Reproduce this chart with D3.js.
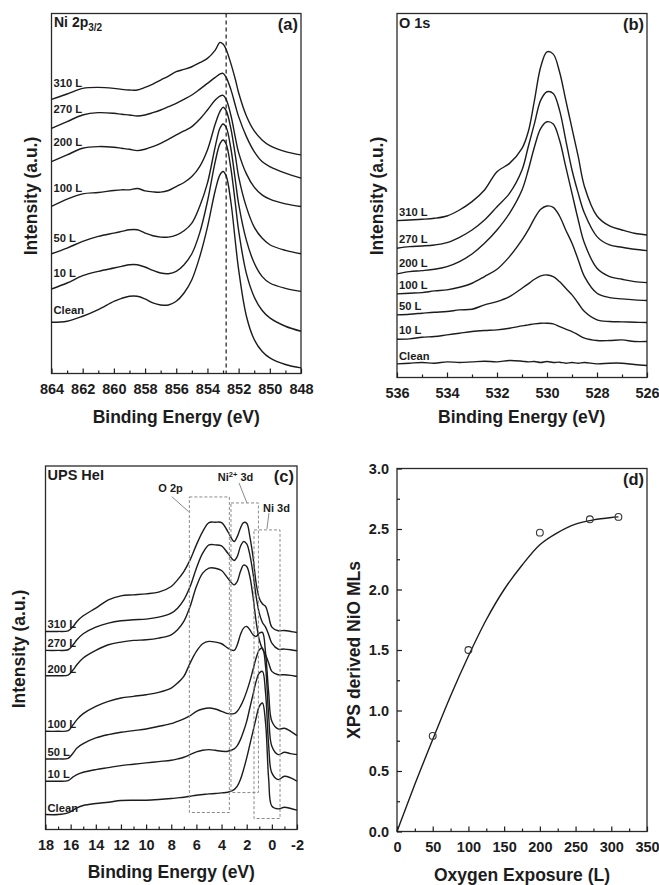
<!DOCTYPE html>
<html><head><meta charset="utf-8">
<script src="https://cdn.jsdelivr.net/npm/d3@7"></script>
<style>
body{margin:0;background:#fff;}
svg{display:block;}
</style></head><body>
<svg id="chart" width="659" height="885"></svg>
<script>
// ---------------- DATA ----------------
const exposures = ["310 L", "270 L", "200 L", "100 L", "50 L", "10 L", "Clean"];

// (a) Ni 2p3/2 XPS, binding energy (eV) and intensity (a.u.)
const energyNi2p = [864, 863, 862, 861, 860, 859.5, 859, 858.5, 858, 857.5, 857, 856.5, 856, 855.5, 855, 854.5, 854, 853.5, 853.2, 853, 852.8, 852.5, 852.2, 852, 851.5, 851, 850.5, 850, 849, 848];
const ni2p_310 = [824, 840, 857, 860, 857, 854, 852, 852, 860, 870, 882, 894, 907, 914, 922, 934, 947, 972, 995, 990, 974, 932, 882, 844, 774, 729, 702, 685, 667, 657];
const ni2p_270 = [737, 757, 777, 784, 782, 779, 777, 774, 777, 784, 792, 802, 812, 824, 837, 854, 872, 890, 900, 902, 890, 854, 804, 772, 712, 667, 637, 622, 602, 587];
const ni2p_200 = [637, 657, 677, 682, 680, 677, 674, 670, 674, 682, 692, 704, 717, 729, 742, 764, 792, 822, 834, 836, 824, 777, 707, 664, 600, 560, 537, 524, 510, 502];
const ni2p_100 = [502, 524, 540, 544, 550, 552, 552, 556, 549, 546, 545, 550, 562, 574, 592, 622, 672, 750, 787, 800, 790, 737, 652, 592, 500, 440, 407, 387, 370, 360];
const ni2p_50 = [360, 377, 397, 412, 422, 427, 432, 432, 422, 414, 410, 410, 416, 429, 452, 502, 572, 682, 737, 750, 740, 677, 577, 510, 400, 332, 292, 272, 256, 247];
const ni2p_10 = [254, 272, 294, 307, 317, 322, 327, 327, 320, 310, 302, 300, 307, 327, 360, 422, 517, 637, 690, 702, 690, 617, 507, 430, 300, 230, 190, 167, 142, 127];
const ni2p_clean = [154, 157, 172, 192, 217, 226, 232, 232, 224, 212, 206, 206, 217, 242, 282, 350, 440, 550, 597, 607, 594, 517, 392, 312, 172, 102, 67, 47, 27, 17];
const ni2pMetalLine = 852.8;
const ni2pTicks = [864, 862, 860, 858, 856, 854, 852, 850, 848];

// (b) O 1s XPS
const energyO1s = [536, 535.5, 535, 534.5, 534, 533.5, 533, 532.5, 532, 531.5, 531, 530.75, 530.5, 530.25, 530, 529.75, 529.5, 529.25, 529, 528.75, 528.5, 528, 527.5, 527, 526.5, 526];
const o1s_310 = [471, 473, 475, 478, 485, 503, 528, 563, 618, 643, 688, 738, 833, 933, 978, 971, 918, 833, 748, 663, 573, 485, 455, 443, 433, 428];
const o1s_270 = [388, 393, 395, 398, 405, 421, 443, 473, 513, 553, 623, 693, 763, 833, 858, 853, 803, 713, 623, 553, 493, 423, 398, 391, 385, 381];
const o1s_200 = [311, 318, 321, 325, 333, 348, 371, 403, 443, 493, 563, 623, 693, 748, 768, 761, 713, 633, 553, 473, 403, 328, 303, 295, 288, 285];
const o1s_100 = [251, 253, 255, 260, 263, 271, 283, 303, 325, 363, 413, 443, 478, 505, 515, 511, 485, 443, 403, 353, 303, 253, 240, 236, 233, 231];
const o1s_50 = [188, 190, 193, 196, 198, 203, 205, 218, 228, 243, 268, 281, 295, 305, 308, 303, 288, 268, 248, 223, 198, 173, 168, 167, 166, 165];
const o1s_10 = [115, 116, 121, 123, 128, 133, 138, 141, 143, 148, 155, 158, 161, 163, 163, 161, 153, 145, 138, 128, 118, 111, 111, 113, 108, 108];
const o1s_clean = [41, 43, 45, 43, 47, 45, 47, 49, 47, 51, 49, 47, 48, 45, 48, 45, 46, 43, 45, 43, 45, 41, 43, 43, 39, 36];
const o1sTicks = [536, 534, 532, 530, 528, 526];

// (c) UPS HeI valence band
const energyUps = [18, 17, 16.2, 15.8, 15.5, 15, 14, 13, 12, 11, 10, 9, 8, 7.5, 7, 6.5, 6, 5.5, 5, 4.5, 4, 3.5, 3, 2.75, 2.5, 2.25, 2, 1.75, 1.5, 1.25, 1, 0.75, 0.5, 0.25, 0, -0.5, -1, -1.5, -2];
const ups_310 = [595, 595, 597, 610, 625, 642, 665, 690, 702, 705, 708, 713, 730, 750, 775, 810, 855, 895, 922, 923, 922, 895, 865, 880, 905, 922, 920, 880, 820, 740, 695, 678, 670, 640, 608, 597, 598, 595, 592];
const ups_270 = [538, 538, 540, 555, 570, 588, 608, 620, 627, 630, 632, 638, 650, 665, 690, 730, 785, 830, 855, 855, 852, 830, 808, 820, 850, 865, 858, 825, 770, 700, 650, 622, 608, 585, 560, 542, 542, 540, 537];
const ups_200 = [462, 462, 464, 480, 495, 515, 538, 555, 563, 568, 570, 575, 585, 600, 625, 670, 730, 770, 785, 785, 778, 755, 735, 745, 775, 794, 790, 760, 700, 625, 570, 542, 525, 500, 475, 465, 465, 463, 460];
const ups_100 = [295, 295, 297, 315, 330, 348, 370, 385, 395, 400, 405, 412, 425, 440, 460, 500, 535, 558, 565, 563, 558, 545, 538, 555, 585, 605, 610, 600, 585, 580, 590, 592, 530, 410, 325, 302, 304, 295, 282];
const ups_50 = [212, 212, 214, 230, 245, 258, 275, 285, 292, 297, 302, 310, 318, 325, 332, 342, 355, 362, 365, 362, 355, 348, 348, 355, 370, 390, 415, 445, 480, 515, 540, 545, 490, 340, 250, 225, 232, 228, 225];
const ups_10 = [145, 145, 147, 158, 165, 172, 180, 186, 192, 196, 200, 204, 208, 212, 217, 225, 233, 238, 240, 238, 235, 235, 242, 252, 270, 295, 325, 365, 405, 445, 470, 475, 410, 250, 170, 150, 160, 155, 145];
const ups_clean = [45, 45, 50, 58, 65, 72, 78, 82, 87, 88, 88, 90, 93, 95, 97, 100, 103, 105, 107, 108, 110, 112, 120, 130, 150, 180, 215, 255, 295, 335, 370, 380, 320, 150, 70, 62, 67, 63, 58];
const upsTicks = [18, 16, 14, 12, 10, 8, 6, 4, 2, 0, -2];
// region boxes: [label, E high, E low, I top, I bottom]
const upsRegions = ["O 2p", "Ni\u00B2\u207A 3d", "Ni 3d"];
const upsRegionE = [[6.56, 3.38], [3.25, 1.07], [1.42, -0.65]];
const upsRegionI = [[999, 51], [981, 111], [900, 33]];

// (d) XPS derived NiO thickness
const exposureL = [50, 100, 200, 270, 310];
const nioML = [0.79, 1.5, 2.47, 2.58, 2.6];
const fitL = [0, 25, 50, 75, 100, 125, 150, 175, 200, 225, 250, 275, 300, 310];
const fitML = [0, 0.39, 0.76, 1.12, 1.45, 1.75, 2.0, 2.2, 2.37, 2.47, 2.54, 2.575, 2.595, 2.6];
const dTicksX = [0, 50, 100, 150, 200, 250, 300, 350];
const dTicksY = [0, 0.5, 1.0, 1.5, 2.0, 2.5, 3.0];

// ---------------- DRAWING ----------------
const FONT = '"Liberation Sans", Arial, Helvetica, sans-serif';
const INK = "#1c1c1c";
const svg = d3.select("#chart").attr("font-family", FONT).attr("font-weight", "bold");

function interpAt(xs, ys, X) {
  if (X >= xs[0]) return ys[0];
  for (let i = 0; i < xs.length - 1; i++) {
    const a = xs[i], b = xs[i + 1];
    if (X <= a && X >= b) { const t = (X - a) / (b - a); return ys[i] + t * (ys[i + 1] - ys[i]); }
  }
  return ys[ys.length - 1];
}

function frame(L) {
  svg.append("rect").attr("x", L.x0).attr("y", L.y0)
    .attr("width", L.x1 - L.x0).attr("height", L.y1 - L.y0)
    .attr("fill", "none").attr("stroke", "#2a2a2a").attr("stroke-width", 1.3);
}

function bottomAxis(x, L, major, minor) {
  const g = svg.append("g").attr("transform", `translate(0,${L.y1})`)
    .call(d3.axisBottom(x).tickValues(major).tickSizeInner(-5).tickSizeOuter(0).tickPadding(10).tickFormat(d => String(d)));
  g.attr("font-family", FONT).attr("font-size", 14.5).attr("font-weight", "bold");
  g.select(".domain").remove();
  g.selectAll("line").attr("stroke", INK).attr("stroke-width", 1.2);
  g.selectAll("text").attr("fill", INK);
  const gm = svg.append("g").attr("transform", `translate(0,${L.y1})`)
    .call(d3.axisBottom(x).tickValues(minor).tickSizeInner(-3).tickSizeOuter(0).tickFormat(""));
  gm.select(".domain").remove();
  gm.selectAll("line").attr("stroke", INK).attr("stroke-width", 1.2);
}

function leftAxis(y, L, major, minor) {
  const g = svg.append("g").attr("transform", `translate(${L.x0},0)`)
    .call(d3.axisLeft(y).tickValues(major).tickSizeInner(-5).tickSizeOuter(0).tickPadding(8).tickFormat(d3.format(".1f")));
  g.attr("font-family", FONT).attr("font-size", 14.5).attr("font-weight", "bold");
  g.select(".domain").remove();
  g.selectAll("line").attr("stroke", INK).attr("stroke-width", 1.2);
  g.selectAll("text").attr("fill", INK);
  const gm = svg.append("g").attr("transform", `translate(${L.x0},0)`)
    .call(d3.axisLeft(y).tickValues(minor).tickSizeInner(-3).tickSizeOuter(0).tickFormat(""));
  gm.select(".domain").remove();
  gm.selectAll("line").attr("stroke", INK).attr("stroke-width", 1.2);
}

function titles(L, xt, yt) {
  svg.append("text").attr("x", L.xTitleX ?? (L.x0 + L.x1) / 2).attr("y", L.xTitleY)
    .attr("text-anchor", "middle").attr("font-size", 17.5).attr("fill", INK).text(xt);
  svg.append("text").attr("transform", `translate(${L.yTitleX},${L.yTitleY}) rotate(-90)`)
    .attr("text-anchor", "middle").attr("font-size", 17.5).attr("fill", INK).text(yt);
}

function tag(L, t) {
  svg.append("text").attr("x", L.x1 - 3).attr("y", L.y0 + 16)
    .attr("text-anchor", "end").attr("font-size", 16.5).attr("fill", INK).text(t);
}

function spectra(L, energies, series, xDomain, yMax, labelMode, labelOff) {
  const x = d3.scaleLinear().domain(xDomain).range([L.x0, L.x1]);
  const y = d3.scaleLinear().domain([0, yMax]).range([L.y1, L.y0]);
  const line = d3.line().x((d, i) => x(energies[i])).y(d => y(d)).curve(d3.curveCatmullRom.alpha(0.5));
  svg.append("g").selectAll("path").data(series).join("path")
    .attr("d", d => line(d)).attr("fill", "none").attr("stroke", INK)
    .attr("stroke-width", 1.4).attr("stroke-linejoin", "round");
  series.forEach((s, k) => {
    const t = svg.append("text").attr("x", L.x0 + 2).attr("font-size", 11.2).attr("fill", INK).text(exposures[k]);
    let v;
    if (labelMode === "start") v = s[0];
    else {
      const w = t.node().getComputedTextLength();
      v = interpAt(energies, s, x.invert(L.x0 + 2 + w));
    }
    t.attr("y", y(v) - labelOff);
  });
  return { x, y };
}

// ---- Panel (a)
const LA = { x0: 51.5, x1: 301, y0: 13.5, y1: 373.5, xTitleY: 423, yTitleX: 37, yTitleY: 196 };
frame(LA);
const A = spectra(LA, energyNi2p, [ni2p_310, ni2p_270, ni2p_200, ni2p_100, ni2p_50, ni2p_10, ni2p_clean], [864, 848], 1082, "end", 2);
svg.append("line").attr("x1", A.x(ni2pMetalLine)).attr("x2", A.x(ni2pMetalLine))
  .attr("y1", LA.y0).attr("y2", LA.y1).attr("stroke", INK).attr("stroke-width", 1.2).attr("stroke-dasharray", "4,3");
bottomAxis(A.x, LA, ni2pTicks, d3.range(863, 848, -2));
titles(LA, "Binding Energy (eV)", "Intensity (a.u.)");
tag(LA, "(a)");
{
  const t = svg.append("text").attr("x", LA.x0 + 2.5).attr("y", LA.y0 + 13.5).attr("font-size", 14).attr("fill", INK).text("Ni 2p");
  t.append("tspan").attr("font-size", 10).attr("dy", 3.5).text("3/2");
}

// ---- Panel (b)
const LB = { x0: 397, x1: 647, y0: 13.5, y1: 377.5, xTitleY: 423, xTitleX: 521.7, yTitleX: 382.5, yTitleY: 196 };
frame(LB);
const B = spectra(LB, energyO1s, [o1s_310, o1s_270, o1s_200, o1s_100, o1s_50, o1s_10, o1s_clean], [536, 526], 1093, "end", 3);
bottomAxis(B.x, LB, o1sTicks, d3.range(535, 526, -2));
titles(LB, "Binding Energy (eV)", "Intensity (a.u.)");
tag(LB, "(b)");
svg.append("text").attr("x", LB.x0 + 2).attr("y", LB.y0 + 14.5).attr("font-size", 14.5).attr("fill", INK).text("O 1s");

// ---- Panel (c)
const LC = { x0: 45.5, x1: 297, y0: 466, y1: 829.5, xTitleY: 878, yTitleX: 25, yTitleY: 649 };
frame(LC);
const C = spectra(LC, energyUps, [ups_310, ups_270, ups_200, ups_100, ups_50, ups_10, ups_clean], [18, -2], 1092, "start", 3);
bottomAxis(C.x, LC, upsTicks, d3.range(17, -2, -2));
titles(LC, "Binding Energy (eV)", "Intensity (a.u.)");
tag(LC, "(c)");
svg.append("text").attr("x", LC.x0 + 2).attr("y", LC.y0 + 14).attr("font-size", 14.5).attr("fill", INK).text("UPS HeI");
// region boxes
const GRAY = "#8a8a8a";
upsRegionE.forEach((e, i) => {
  const [i0, i1] = upsRegionI[i];
  svg.append("rect").attr("x", C.x(e[0])).attr("y", C.y(i0))
    .attr("width", C.x(e[1]) - C.x(e[0])).attr("height", C.y(i1) - C.y(i0))
    .attr("fill", "none").attr("stroke", GRAY).attr("stroke-width", 1).attr("stroke-dasharray", "3,2");
});
// labels + leaders (label E, label I, leader start E/I, leader end E/I)
const upsLabelPos = [[8.06, 1027], [2.89, 1058], [-0.37, 965]];
const upsLeader = [[[7.96, 1000], [6.62, 955]], [[2.61, 1041], [1.98, 981]], [[0.23, 951], [0.39, 903]]];
upsRegions.forEach((name, i) => {
  const t = svg.append("text").attr("x", C.x(upsLabelPos[i][0])).attr("y", C.y(upsLabelPos[i][1]) + 4)
    .attr("text-anchor", "middle").attr("font-size", 11).attr("fill", INK);
  if (i === 1) {
    t.append("tspan").text("Ni");
    t.append("tspan").attr("font-size", 7.5).attr("dy", -4).text("2+");
    t.append("tspan").attr("dy", 4).text(" 3d");
  } else t.text(name);
  const [p0, p1] = upsLeader[i];
  svg.append("line").attr("x1", C.x(p0[0])).attr("y1", C.y(p0[1]))
    .attr("x2", C.x(p1[0])).attr("y2", C.y(p1[1])).attr("stroke", GRAY).attr("stroke-width", 1);
});

// ---- Panel (d)
const LD = { x0: 397, x1: 647, y0: 468.5, y1: 831.5, xTitleY: 881, yTitleX: 360, yTitleY: 650 };
frame(LD);
const dx = d3.scaleLinear().domain([0, 350]).range([LD.x0, LD.x1]);
const dy = d3.scaleLinear().domain([0, 3]).range([LD.y1, LD.y0]);
bottomAxis(dx, LD, dTicksX, d3.range(25, 350, 50));
leftAxis(dy, LD, dTicksY, d3.range(0.25, 3, 0.5));
svg.append("path").datum(fitL)
  .attr("d", d3.line().x(d => dx(d)).y((d, i) => dy(fitML[i])).curve(d3.curveCatmullRom.alpha(0.5)))
  .attr("fill", "none").attr("stroke", INK).attr("stroke-width", 1.4);
svg.append("g").selectAll("circle").data(exposureL).join("circle")
  .attr("cx", d => dx(d)).attr("cy", (d, i) => dy(nioML[i])).attr("r", 3.4)
  .attr("fill", "none").attr("stroke", "#333").attr("stroke-width", 1.1);
titles(LD, "Oxygen Exposure (L)", "XPS derived NiO MLs");
tag(LD, "(d)");
</script>
</body></html>
